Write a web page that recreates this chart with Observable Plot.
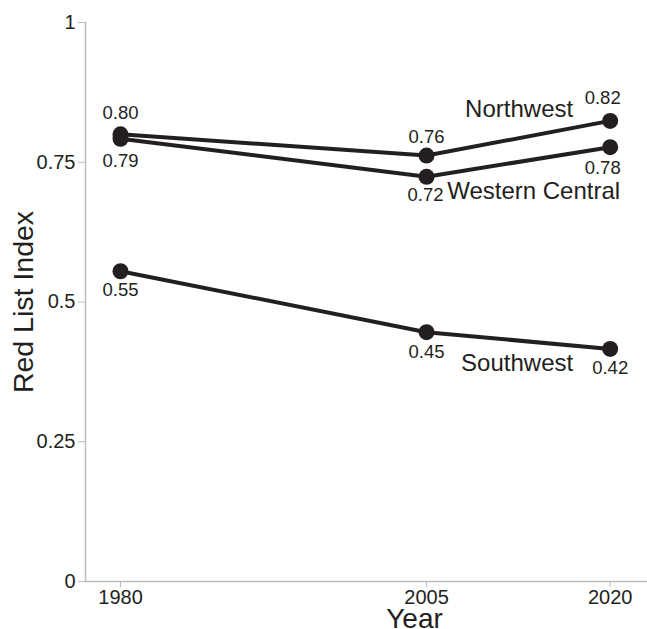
<!DOCTYPE html>
<html>
<head>
<meta charset="utf-8">
<script src="https://cdn.jsdelivr.net/npm/d3@7"></script>
<script src="https://cdn.jsdelivr.net/npm/@observablehq/plot@0.6"></script>
<style>
  html, body { margin: 0; padding: 0; background: #fff; }
  svg { font-family: "Liberation Sans", Arial, sans-serif; display: block; }
</style>
</head>
<body>
<div id="chart"></div>
<script>
const years = [1980, 2005, 2020];
const regions = ["Northwest", "Western Central", "Southwest"];
const northwest = [0.80, 0.762, 0.824];
const westernCentral = [0.792, 0.724, 0.777];
const southwest = [0.555, 0.446, 0.416];
const northwestLabels = ["0.80", "0.76", "0.82"];
const westernCentralLabels = ["0.79", "0.72", "0.78"];
const southwestLabels = ["0.55", "0.45", "0.42"];
const yTicks = [0, 0.25, 0.5, 0.75, 1];
const yTickLabels = ["0", "0.25", "0.5", "0.75", "1"];

const series = [northwest, westernCentral, southwest];
const labels = [northwestLabels, westernCentralLabels, southwestLabels];
const data = [];
regions.forEach((r, i) => years.forEach((yr, j) => data.push({region: r, year: yr, value: series[i][j], label: labels[i][j], j})));

const ink = "#231f20";
const pick = (r, j) => data.filter(d => d.region === r && (j === undefined || d.j === j));
const lab = (rows, dx, dy) => Plot.text(rows, {x: "year", y: "value", text: "label", dx, dy, fontSize: 18.5, fill: ink});

const chart = Plot.plot({
  width: 647,
  height: 629,
  marginLeft: 85,
  marginRight: 0,
  marginTop: 22,
  marginBottom: 48,
  x: {domain: [1977.14, 2023.05]},
  y: {domain: [0, 1]},
  marks: [
    Plot.frame({anchor: "left", stroke: "#bdbdbd", strokeWidth: 1.5}),
    Plot.frame({anchor: "bottom", stroke: "#bdbdbd", strokeWidth: 1.5}),
    Plot.axisY({ticks: yTicks, tickFormat: d => yTickLabels[yTicks.indexOf(d)], tickSize: 7, tickPadding: 3, stroke: "#bdbdbd", fill: ink, fontSize: 20, label: null}),
    Plot.axisX({ticks: years, tickFormat: d => String(d), tickSize: 6, tickPadding: 2, stroke: "#bdbdbd", fill: ink, fontSize: 20, label: null}),
    Plot.text(["Year"], {frameAnchor: "bottom", lineAnchor: "middle", dx: 48, dy: 38, fontSize: 28, fill: ink}),
    Plot.text(["Red List Index"], {frameAnchor: "left", textAnchor: "middle", lineAnchor: "middle", rotate: -90, dx: -62, dy: 0, fontSize: 28.5, fill: ink}),
    Plot.line(data, {x: "year", y: "value", z: "region", stroke: ink, strokeWidth: 4}),
    Plot.dot(data, {x: "year", y: "value", r: 8, fill: ink, stroke: "none"}),
    lab(pick("Northwest", 0), 0, -21),
    lab(pick("Northwest", 1), 0, -18.5),
    lab(pick("Northwest", 2), -7.5, -22.5),
    lab(pick("Western Central", 0), 0, 22),
    lab(pick("Western Central", 1), -1, 18.5),
    lab(pick("Western Central", 2), -7.5, 21),
    lab(pick("Southwest", 0), 0, 18.5),
    lab(pick("Southwest", 1), 0, 20),
    lab(pick("Southwest", 2), 0, 19.5),
    Plot.text(pick("Northwest", 2), {x: "year", y: "value", text: "region", textAnchor: "end", dx: -37, dy: -12, fontSize: 24, fill: ink}),
    Plot.text(pick("Western Central", 2), {x: "year", y: "value", text: "region", textAnchor: "end", dx: 10, dy: 44, fontSize: 24, fill: ink}),
    Plot.text(pick("Southwest", 2), {x: "year", y: "value", text: "region", textAnchor: "end", dx: -37, dy: 14, fontSize: 24, fill: ink})
  ]
});
document.getElementById("chart").appendChild(chart);
</script>
</body>
</html>
